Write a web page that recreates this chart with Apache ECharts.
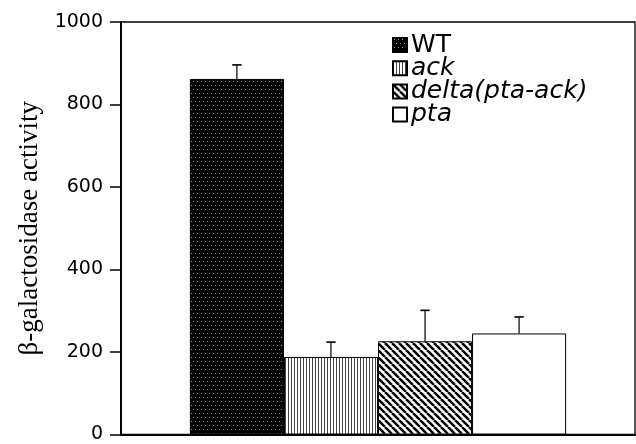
<!DOCTYPE html>
<html><head><meta charset="utf-8">
<script src="https://cdn.jsdelivr.net/npm/echarts@6/dist/echarts.min.js"></script>
<style>html,body{margin:0;padding:0;background:#fff}#c{width:636px;height:444px}</style>
</head><body><div id="c"></div>
<script>
// ---- data ----
const strains = ['WT', 'ack', 'delta(pta-ack)', 'pta'];
const activity = [862, 188, 226, 245];
const errorPlus = [34, 36, 75, 40];
const yTicks = [0, 200, 400, 600, 800, 1000];
const yLabel = 'β-galactosidase activity';

// ---- patterns ----
function tile(w, h, draw) {
  const c = document.createElement('canvas');
  c.width = w; c.height = h;
  draw(c.getContext('2d'));
  return { image: c, repeat: 'repeat' };
}
const dots = tile(8, 8, g => {
  g.fillStyle = '#000'; g.fillRect(0, 0, 8, 8);
  g.fillStyle = '#9a9a9a';
  g.fillRect(1, 1, 1, 1); g.fillRect(5, 1, 1, 1);
  g.fillRect(3, 5, 1, 1); g.fillRect(7, 5, 1, 1);
});
const vlines = tile(3, 2, g => {
  g.fillStyle = '#fff'; g.fillRect(0, 0, 3, 2);
  g.fillStyle = '#444'; g.fillRect(0, 0, 1, 2);
});
const diag = tile(7, 7, g => {
  g.fillStyle = '#fff'; g.fillRect(0, 0, 7, 7);
  g.strokeStyle = '#000'; g.lineWidth = 2.5;
  for (const o of [-7, 0, 7]) {
    g.beginPath(); g.moveTo(o, 0); g.lineTo(o + 7, 7); g.stroke();
  }
});
const fills = [dots, vlines, diag, '#fff'];

const BAR_FRAC = 0.183;
const chart = echarts.init(document.getElementById('c'), null, { renderer: 'canvas' });

const barSeries = strains.map((s, i) => ({
  name: s,
  type: 'bar',
  barWidth: (BAR_FRAC * 100) + '%',
  barGap: '0%',
  data: [activity[i]],
  itemStyle: { color: fills[i], borderColor: '#000', borderWidth: 1 },
  z: 2
}));

const errSeries = {
  type: 'custom',
  z: 3,
  encode: { x: 0, y: [1, 2] },
  data: strains.map((s, i) => [0, activity[i], activity[i] + errorPlus[i], i]),
  renderItem(params, api) {
    const idx = api.value(3);
    const lo = api.coord([0, api.value(1)]);
    const hi = api.coord([0, api.value(2)]);
    const band = api.size([1, 0])[0];
    const bw = band * BAR_FRAC;
    const x = lo[0] + (idx - 1.5) * bw;
    const cap = bw * 0.05;
    return {
      type: 'group', children: [
        { type: 'line', shape: { x1: x, y1: lo[1], x2: x, y2: hi[1] }, style: { stroke: '#000', lineWidth: 1.2 } },
        { type: 'line', shape: { x1: x - cap, y1: hi[1], x2: x + cap, y2: hi[1] }, style: { stroke: '#000', lineWidth: 1.6 } }
      ]
    };
  }
};

chart.setOption({
  animation: false,
  backgroundColor: '#fff',
  grid: { left: 121, right: 1, top: 22, bottom: 4, show: true, borderColor: '#000', borderWidth: 1.3, backgroundColor: 'transparent' },
  legend: {
    orient: 'vertical', left: 392, top: 32.5, padding: 0, itemWidth: 14, itemHeight: 14, itemGap: -1.8,
    icon: 'rect',
    data: strains,
    formatter: n => n === 'WT' ? '{n|' + n + '}' : '{i|' + n + '}',
    textStyle: {
      color: '#000',
      rich: {
        n: { fontFamily: 'DejaVu Sans', fontSize: 25, lineHeight: 21.5, color: '#000', padding: [0, 0, 0, -1] },
        i: { fontFamily: 'DejaVu Sans', fontSize: 25, lineHeight: 21.5, fontStyle: 'italic', color: '#000', padding: [0, 0, 0, -1] }
      }
    }
  },
  xAxis: {
    type: 'category', data: [''],
    axisLine: { show: true, lineStyle: { color: '#000', width: 2 } },
    axisTick: { show: false }, axisLabel: { show: false }, splitLine: { show: false }
  },
  yAxis: {
    type: 'value', min: yTicks[0], max: yTicks[yTicks.length - 1], interval: yTicks[1] - yTicks[0],
    name: yLabel, nameLocation: 'middle', nameGap: 74,
    nameTextStyle: { fontFamily: 'Liberation Serif', fontSize: 27, color: '#000' },
    axisLine: { show: true, lineStyle: { color: '#000', width: 2 } },
    axisTick: { show: true, inside: false, length: 11, lineStyle: { color: '#000', width: 1.5 } },
    axisLabel: { fontFamily: 'DejaVu Sans', fontSize: 19, color: '#000', margin: 18, formatter: v => String(v) },
    splitLine: { show: false }
  },
  series: [...barSeries, errSeries]
});
</script></body></html>
